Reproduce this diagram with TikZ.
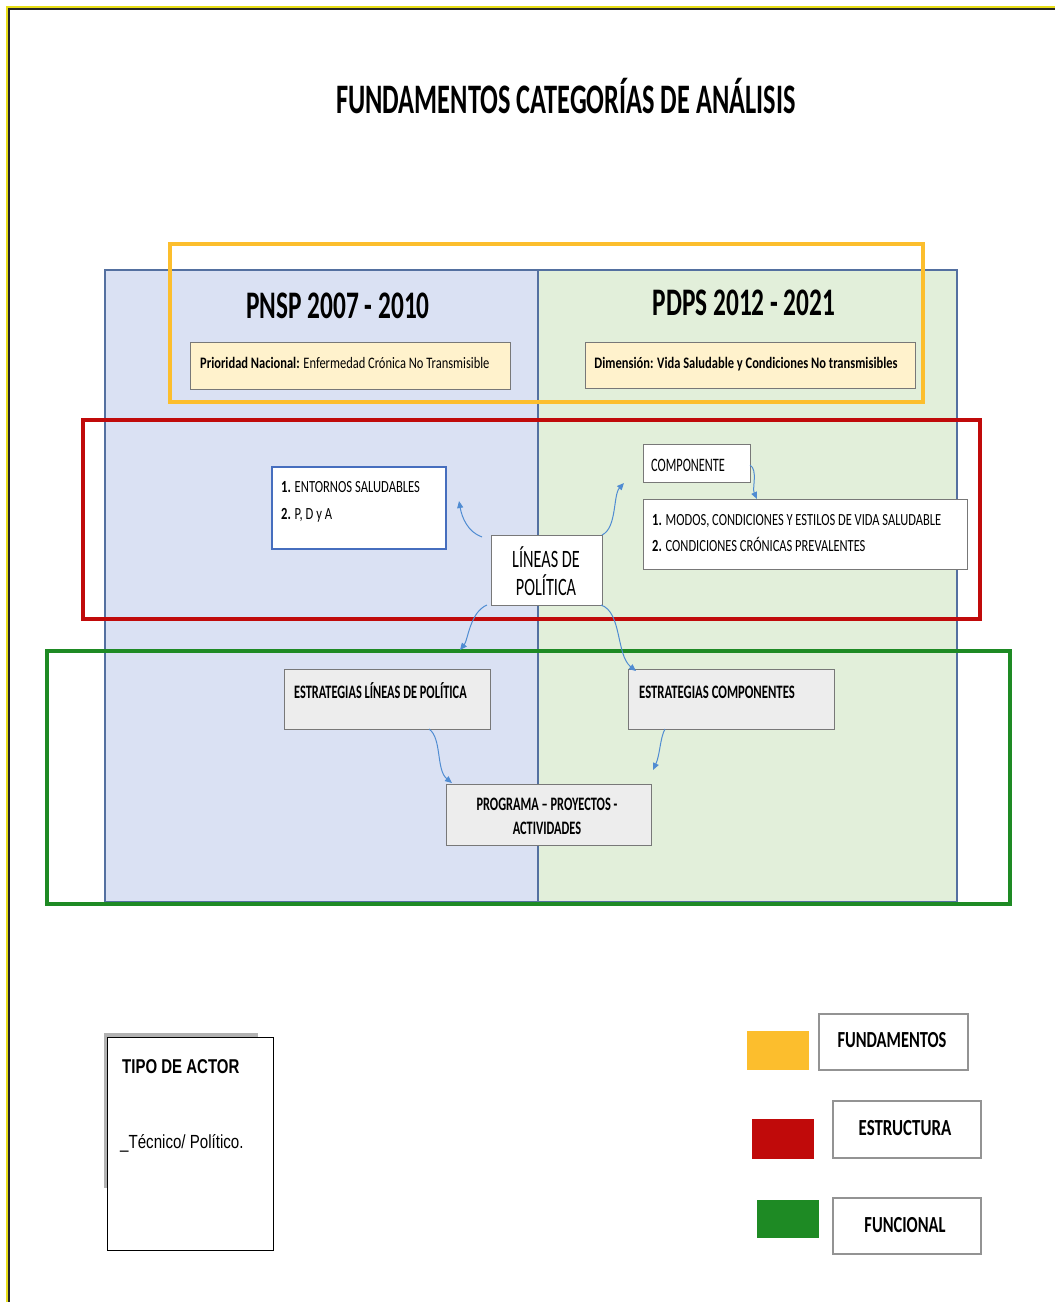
\documentclass[tikz,border=0pt]{standalone}
\usepackage{graphicx}
\usepackage{fontspec}
\setmainfont{Carlito}[FakeStretch=0.65]
\newfontfamily\arialn{Liberation Sans}[FakeStretch=0.75]
\usetikzlibrary{arrows.meta,calc}

\definecolor{panelblue}{RGB}{218,225,243}
\definecolor{panelgreen}{RGB}{226,239,218}
\definecolor{panelline}{RGB}{84,112,160}
\definecolor{fundcol}{RGB}{252,190,45}
\definecolor{estrcol}{RGB}{192,10,10}
\definecolor{funccol}{RGB}{30,138,36}
\definecolor{creamfill}{RGB}{255,242,204}
\definecolor{greyfill}{RGB}{237,237,237}
\definecolor{boxline}{RGB}{120,120,120}
\definecolor{arrowblue}{RGB}{80,140,210}
\definecolor{entline}{RGB}{70,110,190}

\newcommand\fsz[2]{\fontsize{#1}{#2}\selectfont}
\newcommand\wider[2]{\scalebox{#1}[1]{#2}}

\tikzset{
  boxbase/.style={rectangle, inner sep=0pt, anchor=north west, line width=1.4pt},
  creambox/.style={boxbase, draw=boxline, fill=creamfill},
  whitebox/.style={boxbase, draw=boxline, fill=white},
  greybox/.style={boxbase, draw=boxline, fill=greyfill},
  bluebox/.style={boxbase, draw=entline, fill=white, line width=1.8pt},
  legbox/.style={boxbase, draw=boxline!80, fill=white, line width=1.6pt},
  txt/.style={inner sep=0pt, anchor=base west},
  ctxt/.style={inner sep=0pt, anchor=base},
  arr/.style={draw=arrowblue, line width=1pt, -{Triangle[length=7pt,width=6pt]}},
  frame/.style={line width=3.6pt}
}

\begin{document}
\begin{tikzpicture}[x=1pt,y=-1pt]
\useasboundingbox (0,0) rectangle (1055,1302);
\fill[white] (0,0) rectangle (1055,1302);

% page frame, open on the right and at the bottom
\draw[yellow!90!black, line width=2pt] (7,1302) -- (7,7) -- (1055,7);
\draw[black!85, line width=2.4pt] (9.2,1302) -- (9.2,9.2) -- (1055,9.2);

% title
\node[ctxt] (title) at (566,113) {\fsz{42}{48}\bfseries\wider{0.965}{FUNDAMENTOS CATEGORÍAS DE ANÁLISIS}};

% two policy panels
\filldraw[fill=panelblue, draw=panelline, line width=1.2pt] (105,270) rectangle (538,902);
\filldraw[fill=panelgreen, draw=panelline, line width=1.2pt] (538,270) rectangle (957,902);

% panel headings
\node[ctxt] (pnsp) at (338,318) {\fsz{39}{44}\bfseries PNSP 2007 - 2010};
\node[ctxt] (pdps) at (744,315) {\fsz{39}{44}\bfseries PDPS 2012 - 2021};

% fundamentos boxes
\node[creambox, minimum width=320pt, minimum height=47pt] (prio) at (190,342) {};
\node[txt] (priotxt) at (200,368) {\fsz{16}{19}\wider{1.2}{\textbf{Prioridad Nacional:} Enfermedad Crónica No Transmisible}};
\node[creambox, minimum width=330pt, minimum height=46pt] (dim) at (585,342) {};
\node[ctxt] (dimtxt) at (746,368) {\fsz{16}{19}\bfseries\wider{1.2}{Dimensión: Vida Saludable y Condiciones No transmisibles}};

% estructura boxes
\node[bluebox, minimum width=174pt, minimum height=82pt] (ent) at (271,466) {};
\node[txt] (ent1) at (281,492) {\fsz{17}{20}\wider{1.14}{\textbf{1.} ENTORNOS SALUDABLES}};
\node[txt] (ent2) at (281,519) {\fsz{17}{20}\wider{1.14}{\textbf{2.} P, D y A}};

\node[whitebox, minimum width=111pt, minimum height=70pt] (lin) at (491,535) {};
\node[ctxt] (lin1) at (546,567) {\fsz{25}{29}LÍNEAS DE};
\node[ctxt] (lin2) at (546,595) {\fsz{25}{29}POLÍTICA};

\node[whitebox, minimum width=107pt, minimum height=38pt] (comp) at (643,444) {};
\node[txt] (comptxt) at (651,471) {\fsz{19}{22}COMPONENTE};

\node[whitebox, minimum width=324pt, minimum height=70pt] (modos) at (643,499) {};
\node[txt] (modos1) at (652,525) {\fsz{17}{20}\wider{1.13}{\textbf{1.} MODOS, CONDICIONES Y ESTILOS DE VIDA SALUDABLE}};
\node[txt] (modos2) at (652,551) {\fsz{17}{20}\wider{1.13}{\textbf{2.} CONDICIONES CRÓNICAS PREVALENTES}};

% funcional boxes
\node[greybox, minimum width=206pt, minimum height=60pt] (estl) at (284,669) {};
\node[txt] (estltxt) at (294,698) {\fsz{19}{22}\bfseries ESTRATEGIAS LÍNEAS DE POLÍTICA};
\node[greybox, minimum width=206pt, minimum height=60pt] (estc) at (628,669) {};
\node[txt] (estctxt) at (639,698) {\fsz{19}{22}\bfseries\wider{1.03}{ESTRATEGIAS COMPONENTES}};
\node[greybox, minimum width=205pt, minimum height=61pt] (prog) at (446,784) {};
\node[ctxt] (prog1) at (547,810) {\fsz{19}{22}\bfseries PROGRAMA -- PROYECTOS -};
\node[ctxt] (prog2) at (547,834) {\fsz{19}{22}\bfseries ACTIVIDADES};

% category frames
\draw[fundcol, frame] (170,244) rectangle (923,402);
\draw[estrcol, frame] (83,420) rectangle (980,619);
\draw[funccol, frame] (47,651) rectangle (1010,904);

% connectors
\coordinate (a1s) at (482,537);
\coordinate (a1e) at (459,501);
\coordinate (a2s) at (602,535);
\coordinate (a2e) at (624,483);
\coordinate (a3s) at (750,465);
\coordinate (a3e) at (757,499);
\coordinate (a4s) at (487,605);
\coordinate (a4e) at (460,650);
\coordinate (a5s) at (601,605);
\coordinate (a5e) at (636,671);
\coordinate (a6s) at (429,729);
\coordinate (a6e) at (452,783);
\coordinate (a7s) at (665,729);
\coordinate (a7e) at (653,770);

\draw[arr] (a1s) .. controls (468,532) and (462,518) .. (a1e);
\draw[arr] (a2s) .. controls (617,528) and (613,495) .. (a2e);
\draw[arr] (a3s) .. controls (758,470) and (752,488) .. (a3e);
\draw[arr] (a4s) .. controls (470,612) and (468,640) .. (a4e);
\draw[arr] (a5s) .. controls (622,612) and (616,655) .. (a5e);
\draw[arr] (a6s) .. controls (442,738) and (436,770) .. (a6e);
\draw[arr] (a7s) .. controls (660,738) and (660,755) .. (a7e);

% actor type box
\fill[black!30] (104,1033) rectangle (258,1188);
\node[boxbase, draw=black, fill=white, line width=1.3pt, minimum width=166pt, minimum height=213pt] (actor) at (107,1037) {};
\node[txt] (actor1) at (122,1073) {\arialn\fsz{20}{24}\bfseries TIPO DE ACTOR};
\node[txt] (actor2) at (120,1148) {\arialn\fsz{19}{23}\wider{1.06}{\_Técnico/ Político.}};

% legend
\fill[fundcol] (747,1031) rectangle (809,1070);
\node[legbox, minimum width=149pt, minimum height=56pt] (legf) at (818,1013) {};
\node[ctxt] (legftxt) at (892,1047) {\fsz{23}{27}\bfseries\wider{1.1}{FUNDAMENTOS}};
\fill[estrcol] (752,1119) rectangle (814,1159);
\node[legbox, minimum width=148pt, minimum height=57pt] (lege) at (832,1100) {};
\node[ctxt] (legetxt) at (905,1135) {\fsz{23}{27}\bfseries\wider{1.13}{ESTRUCTURA}};
\fill[funccol] (757,1200) rectangle (819,1238);
\node[legbox, minimum width=148pt, minimum height=56pt] (legn) at (832,1197) {};
\node[ctxt] (legntxt) at (905,1232) {\fsz{23}{27}\bfseries\wider{1.1}{FUNCIONAL}};
\end{tikzpicture}
\end{document}
